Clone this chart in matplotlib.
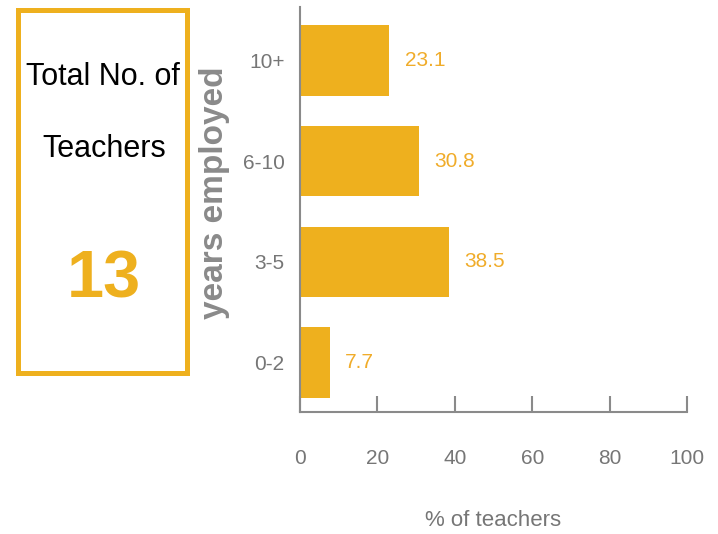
import matplotlib.pyplot as plt
from matplotlib.patches import Rectangle

# Data
categories = ['0-2', '3-5', '6-10', '10+']
percentages = [7.7, 38.5, 30.8, 23.1]
total_teachers = 13
x_ticks = [0, 20, 40, 60, 80, 100]

bar_color = '#EEB01E'
label_orange = '#F0AC2A'
gray = '#767676'
axis_gray = '#8a8a8a'
font = ['Liberation Sans', 'DejaVu Sans']

fig = plt.figure(figsize=(7.18, 5.34), dpi=100)
W, H = 718, 534

ax = fig.add_axes([300 / W, 122 / H, 387 / W, 405 / H])

bars = ax.barh(range(len(categories)), percentages, height=0.7, color=bar_color)
ax.set_xlim(0, 100)
ax.set_ylim(-0.49, 3.53)

# value labels
for i, v in enumerate(percentages):
    ax.text(v + 4, i, f'{v}', ha='left', va='center', color=label_orange,
            fontsize=15, family=font)

ax.set_yticks(range(len(categories)))
ax.set_yticklabels(categories, family=font, fontsize=15, color=gray)
ax.set_xticks(x_ticks)
ax.set_xticklabels([str(t) for t in x_ticks], family=font, fontsize=15, color=gray)

ax.tick_params(axis='y', length=0, pad=11)
ax.tick_params(axis='x', direction='in', length=11.5, width=1.5, color=axis_gray, pad=27)

for s in ['top', 'right']:
    ax.spines[s].set_visible(False)
for s in ['left', 'bottom']:
    ax.spines[s].set_color(axis_gray)
    ax.spines[s].set_linewidth(1.5)

ax.set_xlabel('% of teachers', family=font, fontsize=16, color=gray, labelpad=30)

# rotated y-axis label
fig.text(214 / W, 1 - 193 / H, 'years employed', rotation=90, ha='center', va='center',
         fontsize=24, fontweight='bold', color=axis_gray, family=font)

# left box with total
fig.patches.append(Rectangle((18 / W, 1 - 373 / H), 169 / W, 363 / H, transform=fig.transFigure,
                             fill=False, edgecolor=bar_color, linewidth=3.6))
fig.text(103 / W, 1 - 85 / H, 'Total No. of', ha='center', va='baseline',
         fontsize=22, color='black', family=font)
fig.text(104 / W, 1 - 157 / H, 'Teachers', ha='center', va='baseline',
         fontsize=22, color='black', family=font)
fig.text(104 / W, 1 - 298 / H, str(total_teachers), ha='center', va='baseline',
         fontsize=48, fontweight='bold', color=bar_color, family=font)

fig.savefig('out.png', dpi=100)
